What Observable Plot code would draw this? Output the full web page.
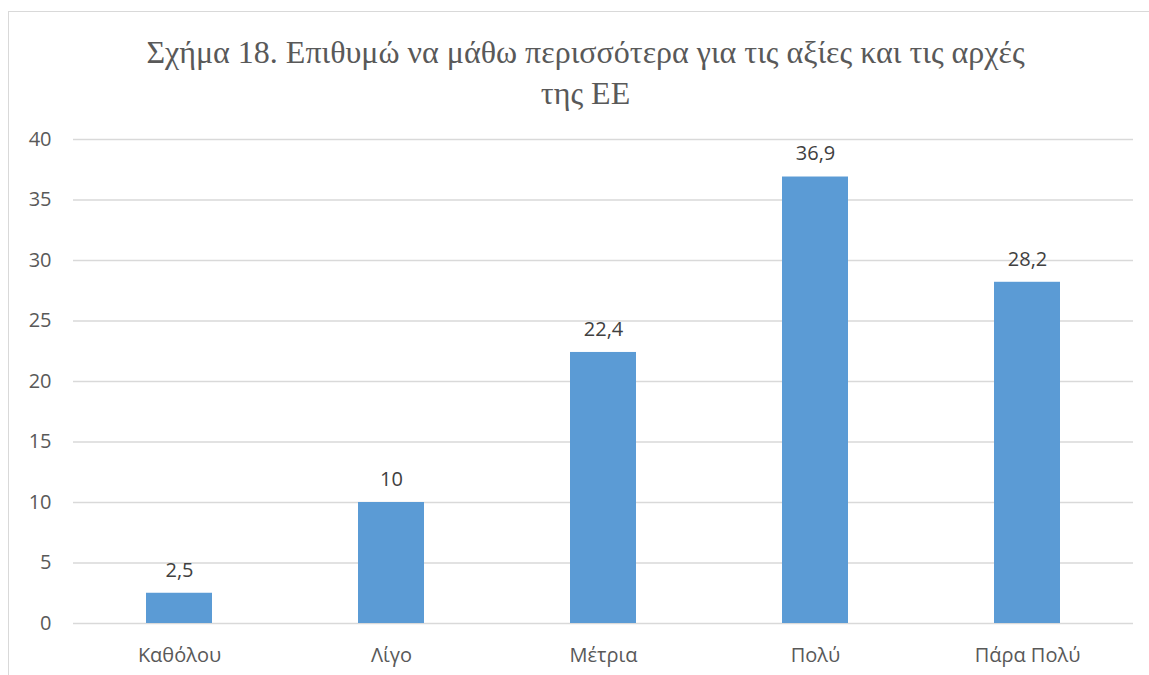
<!DOCTYPE html>
<html><head><meta charset="utf-8">
<script src="https://cdn.jsdelivr.net/npm/d3@7"></script>
<script src="https://cdn.jsdelivr.net/npm/@observablehq/plot@0.6"></script>
<style>
body{margin:0;background:#fff;width:1149px;height:675px;overflow:hidden;position:relative;}
#frame{position:absolute;left:8px;top:11px;width:1200px;height:700px;border:1.5px solid #d9d9d9;box-sizing:border-box;}
#title{position:absolute;left:0;top:32px;width:1171px;text-align:center;font-family:"Liberation Serif","Times New Roman",serif;font-size:32px;line-height:41px;color:#595959;white-space:nowrap;}
#chart{position:absolute;left:0;top:120px;}
</style></head>
<body>
<div id="frame"></div>
<div id="title">Σχήμα 18. Επιθυμώ να μάθω περισσότερα για τις αξίες και τις αρχές<br>της ΕΕ</div>
<div id="chart"></div>
<script>
const categories = ["Καθόλου", "Λίγο", "Μέτρια", "Πολύ", "Πάρα Πολύ"];
const values = [2.5, 10, 22.4, 36.9, 28.2];
const yTicks = [0, 5, 10, 15, 20, 25, 30, 35, 40];

const data = categories.map((c, i) => ({cat: c, val: values[i]}));
const fmt = v => String(v).replace(".", ",");

const plot = Plot.plot({
  width: 1149,
  height: 555,
  marginTop: 19,
  marginBottom: 52,
  marginLeft: 73,
  marginRight: 16,
  style: {fontFamily: "'Open Sans', sans-serif", fontSize: "20px", color: "#595959", background: "transparent"},
  x: {domain: categories, paddingInner: 0.69, paddingOuter: 0.345, label: null},
  y: {domain: [0, 40], ticks: yTicks, label: null},
  marks: [
    Plot.ruleY(yTicks, {stroke: "#d9d9d9", strokeWidth: 1.3}),
    Plot.barY(data, {x: "cat", y: "val", fill: "#5b9bd5"}),
    Plot.text(data, {x: "cat", y: "val", text: d => fmt(d.val), dy: -23, fill: "#404040", fontSize: 20}),
    Plot.axisY({ticks: yTicks, tickSize: 0, tickPadding: 22, fontSize: 20, fill: "#595959", label: null}),
    Plot.axisX({tickSize: 0, tickPadding: 24, fontSize: 20, fill: "#595959", label: null})
  ]
});
document.getElementById("chart").appendChild(plot);
</script>
</body></html>
